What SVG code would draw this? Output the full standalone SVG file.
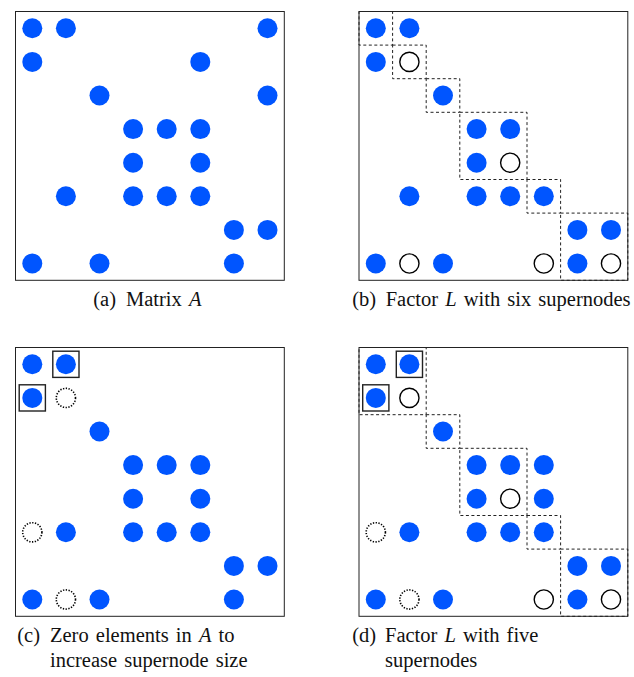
<svg xmlns="http://www.w3.org/2000/svg" xmlns:xlink="http://www.w3.org/1999/xlink" width="634" height="677" viewBox="0 0 634 677">
  <style>
    .frame { fill: #ffffff; stroke: #222222; stroke-width: 1; }
    .f { fill: #0055ff; }
    .o { fill: #ffffff; stroke: #000000; stroke-width: 1.4; }
    .z { fill: none; stroke: #000000; stroke-width: 1.6; stroke-dasharray: 1.3 1.5; }
    .sq { fill: none; stroke: #222222; stroke-width: 1.4; }
    .sn { fill: none; stroke: #222222; stroke-width: 1; stroke-dasharray: 3 2.5; }
    .cap { font-family: "Liberation Serif", "Times New Roman", serif; font-size: 20.5px; fill: #111111; word-spacing: 2px; }
    .it { font-style: italic; }
  </style>
  <rect width="634" height="677" fill="#ffffff"/>

  <!-- Panel (a) -->
  <g id="panel-a" transform="translate(15.5,11.5)">
    <rect class="frame" x="0" y="0" width="268.8" height="268.8"/>
    <circle class="f" cx="16.8" cy="16.8" r="10"/>
    <circle class="f" cx="50.4" cy="16.8" r="10"/>
    <circle class="f" cx="252" cy="16.8" r="10"/>
    <circle class="f" cx="16.8" cy="50.4" r="10"/>
    <circle class="f" cx="184.8" cy="50.4" r="10"/>
    <circle class="f" cx="84" cy="84" r="10"/>
    <circle class="f" cx="252" cy="84" r="10"/>
    <circle class="f" cx="117.6" cy="117.6" r="10"/>
    <circle class="f" cx="151.2" cy="117.6" r="10"/>
    <circle class="f" cx="184.8" cy="117.6" r="10"/>
    <circle class="f" cx="117.6" cy="151.2" r="10"/>
    <circle class="f" cx="184.8" cy="151.2" r="10"/>
    <circle class="f" cx="50.4" cy="184.8" r="10"/>
    <circle class="f" cx="117.6" cy="184.8" r="10"/>
    <circle class="f" cx="151.2" cy="184.8" r="10"/>
    <circle class="f" cx="184.8" cy="184.8" r="10"/>
    <circle class="f" cx="218.4" cy="218.4" r="10"/>
    <circle class="f" cx="252" cy="218.4" r="10"/>
    <circle class="f" cx="16.8" cy="252" r="10"/>
    <circle class="f" cx="84" cy="252" r="10"/>
    <circle class="f" cx="218.4" cy="252" r="10"/>
  </g>

  <!-- Panel (b) -->
  <g id="panel-b" transform="translate(359,11.5)">
    <rect class="frame" x="0" y="0" width="268.8" height="268.8"/>
    <g id="supernodes-b">
      <rect class="sn" x="0" y="0" width="33.6" height="33.6"/>
      <rect class="sn" x="33.6" y="33.6" width="33.6" height="33.6"/>
      <rect class="sn" x="67.2" y="67.2" width="33.6" height="33.6"/>
      <rect class="sn" x="100.8" y="100.8" width="67.2" height="67.2"/>
      <rect class="sn" x="168" y="168" width="33.6" height="33.6"/>
      <rect class="sn" x="201.6" y="201.6" width="67.2" height="67.2"/>
    </g>
    <circle class="f" cx="16.8" cy="16.8" r="10"/>
    <circle class="f" cx="50.4" cy="16.8" r="10"/>
    <circle class="f" cx="16.8" cy="50.4" r="10"/>
    <circle class="o" cx="50.4" cy="50.4" r="9.6"/>
    <circle class="f" cx="84" cy="84" r="10"/>
    <circle class="f" cx="117.6" cy="117.6" r="10"/>
    <circle class="f" cx="151.2" cy="117.6" r="10"/>
    <circle class="f" cx="117.6" cy="151.2" r="10"/>
    <circle class="o" cx="151.2" cy="151.2" r="9.6"/>
    <circle class="f" cx="50.4" cy="184.8" r="10"/>
    <circle class="f" cx="117.6" cy="184.8" r="10"/>
    <circle class="f" cx="151.2" cy="184.8" r="10"/>
    <circle class="f" cx="184.8" cy="184.8" r="10"/>
    <circle class="f" cx="218.4" cy="218.4" r="10"/>
    <circle class="f" cx="252" cy="218.4" r="10"/>
    <circle class="f" cx="16.8" cy="252" r="10"/>
    <circle class="o" cx="50.4" cy="252" r="9.6"/>
    <circle class="f" cx="84" cy="252" r="10"/>
    <circle class="o" cx="184.8" cy="252" r="9.6"/>
    <circle class="f" cx="218.4" cy="252" r="10"/>
    <circle class="o" cx="252" cy="252" r="9.6"/>
  </g>

  <!-- Panel (c) -->
  <g id="panel-c" transform="translate(15.5,347.5)">
    <rect class="frame" x="0" y="0" width="268.8" height="268.8"/>
    <circle class="f" cx="16.8" cy="16.8" r="10"/>
    <circle class="f" cx="50.4" cy="16.8" r="10"/>
    <circle class="f" cx="16.8" cy="50.4" r="10"/>
    <circle class="z" cx="50.4" cy="50.4" r="9.6"/>
    <circle class="f" cx="84" cy="84" r="10"/>
    <circle class="f" cx="117.6" cy="117.6" r="10"/>
    <circle class="f" cx="151.2" cy="117.6" r="10"/>
    <circle class="f" cx="184.8" cy="117.6" r="10"/>
    <circle class="f" cx="117.6" cy="151.2" r="10"/>
    <circle class="f" cx="184.8" cy="151.2" r="10"/>
    <circle class="z" cx="16.8" cy="184.8" r="9.6"/>
    <circle class="f" cx="50.4" cy="184.8" r="10"/>
    <circle class="f" cx="117.6" cy="184.8" r="10"/>
    <circle class="f" cx="151.2" cy="184.8" r="10"/>
    <circle class="f" cx="184.8" cy="184.8" r="10"/>
    <circle class="f" cx="218.4" cy="218.4" r="10"/>
    <circle class="f" cx="252" cy="218.4" r="10"/>
    <circle class="f" cx="16.8" cy="252" r="10"/>
    <circle class="z" cx="50.4" cy="252" r="9.6"/>
    <circle class="f" cx="84" cy="252" r="10"/>
    <circle class="f" cx="218.4" cy="252" r="10"/>
    <rect class="sq" x="37.3" y="3.7" width="26.2" height="26.2"/>
    <rect class="sq" x="3.7" y="37.3" width="26.2" height="26.2"/>
  </g>

  <!-- Panel (d) -->
  <g id="panel-d" transform="translate(359,347.5)">
    <rect class="frame" x="0" y="0" width="268.8" height="268.8"/>
    <g id="supernodes-d">
      <rect class="sn" x="0" y="0" width="67.2" height="67.2"/>
      <rect class="sn" x="67.2" y="67.2" width="33.6" height="33.6"/>
      <rect class="sn" x="100.8" y="100.8" width="67.2" height="67.2"/>
      <rect class="sn" x="168" y="168" width="33.6" height="33.6"/>
      <rect class="sn" x="201.6" y="201.6" width="67.2" height="67.2"/>
    </g>
    <circle class="f" cx="16.8" cy="16.8" r="10"/>
    <circle class="f" cx="50.4" cy="16.8" r="10"/>
    <circle class="f" cx="16.8" cy="50.4" r="10"/>
    <circle class="o" cx="50.4" cy="50.4" r="9.6"/>
    <circle class="f" cx="84" cy="84" r="10"/>
    <circle class="f" cx="117.6" cy="117.6" r="10"/>
    <circle class="f" cx="151.2" cy="117.6" r="10"/>
    <circle class="f" cx="184.8" cy="117.6" r="10"/>
    <circle class="f" cx="117.6" cy="151.2" r="10"/>
    <circle class="o" cx="151.2" cy="151.2" r="9.6"/>
    <circle class="f" cx="184.8" cy="151.2" r="10"/>
    <circle class="z" cx="16.8" cy="184.8" r="9.6"/>
    <circle class="f" cx="50.4" cy="184.8" r="10"/>
    <circle class="f" cx="117.6" cy="184.8" r="10"/>
    <circle class="f" cx="151.2" cy="184.8" r="10"/>
    <circle class="f" cx="184.8" cy="184.8" r="10"/>
    <circle class="f" cx="218.4" cy="218.4" r="10"/>
    <circle class="f" cx="252" cy="218.4" r="10"/>
    <circle class="f" cx="16.8" cy="252" r="10"/>
    <circle class="z" cx="50.4" cy="252" r="9.6"/>
    <circle class="f" cx="84" cy="252" r="10"/>
    <circle class="o" cx="184.8" cy="252" r="9.6"/>
    <circle class="f" cx="218.4" cy="252" r="10"/>
    <circle class="o" cx="252" cy="252" r="9.6"/>
    <rect class="sq" x="37.3" y="3.7" width="26.2" height="26.2"/>
    <rect class="sq" x="3.7" y="37.3" width="26.2" height="26.2"/>
  </g>

  <!-- Captions -->
  <g id="captions">
    <text class="cap" x="93.3" y="306">(a)</text>
    <text class="cap" x="126" y="306">Matrix <tspan class="it">A</tspan></text>
    <text class="cap" x="352.3" y="306">(b)</text>
    <text class="cap" x="385.7" y="306">Factor <tspan class="it">L</tspan> with six supernodes</text>
    <text class="cap" x="17.3" y="642">(c)</text>
    <text class="cap" x="50" y="642">Zero elements in <tspan class="it">A</tspan> to</text>
    <text class="cap" x="50" y="667">increase supernode size</text>
    <text class="cap" x="352.3" y="642">(d)</text>
    <text class="cap" x="385" y="642">Factor <tspan class="it">L</tspan> with five</text>
    <text class="cap" x="385" y="667">supernodes</text>
  </g>
</svg>
